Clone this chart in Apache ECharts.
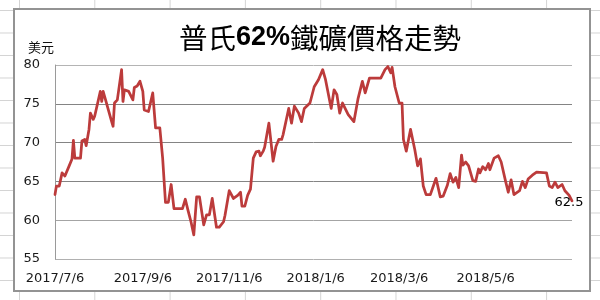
<!DOCTYPE html>
<html>
<head>
<meta charset="utf-8">
<script src="https://cdn.jsdelivr.net/npm/echarts@6/dist/echarts.min.js"></script>
<style>
  html, body { margin: 0; padding: 0; }
  body {
    width: 600px; height: 300px; position: relative; overflow: hidden;
    background-color: #ffffff;
    background-image:
      linear-gradient(90deg, #d4d4d4 1px, transparent 1px),
      linear-gradient(180deg, #d4d4d4 1px, transparent 1px);
    background-size: 75.3px 100%, 100% 22.5px;
    background-position: 19px 0, 0 10px;
  }
  #frame {
    position: absolute; left: 13px; top: 8px; width: 574px; height: 280px;
    border: 2px solid #939393; background: #ffffff;
  }
  #chart { position: absolute; left: 0; top: 0; width: 600px; height: 300px; }
</style>
</head>
<body>
<div id="frame"></div>
<div id="chart"></div>
<script>
// ---- data ----
const titleParts = ['普氏', '62%', '鐵礦價格走勢'];
const unitLabel = '美元';
const xTickDates = ['2017-07-06', '2017-09-06', '2017-11-06', '2018-01-06', '2018-03-06', '2018-05-06'];
const xRange = ['2017-07-06', '2018-07-06'];
const yTicks = [55, 60, 65, 70, 75, 80];

const dates = [
  '2017-07-06','2017-07-07','2017-07-09','2017-07-11','2017-07-13','2017-07-14','2017-07-16','2017-07-18','2017-07-19','2017-07-20',
  '2017-07-24','2017-07-25','2017-07-27','2017-07-28','2017-07-30','2017-07-31','2017-08-02','2017-08-03','2017-08-07','2017-08-08',
  '2017-08-09','2017-08-11','2017-08-15','2017-08-16','2017-08-17','2017-08-19','2017-08-22','2017-08-23','2017-08-24','2017-08-27',
  '2017-08-30','2017-08-31','2017-09-02','2017-09-04','2017-09-06','2017-09-07','2017-09-10','2017-09-13','2017-09-15','2017-09-18',
  '2017-09-20','2017-09-22','2017-09-24','2017-09-26','2017-09-28','2017-10-04','2017-10-06','2017-10-08','2017-10-10','2017-10-12',
  '2017-10-14','2017-10-16','2017-10-19','2017-10-21','2017-10-23','2017-10-25','2017-10-26','2017-10-28','2017-10-30','2017-11-02',
  '2017-11-03','2017-11-06','2017-11-09','2017-11-12','2017-11-14','2017-11-15','2017-11-17','2017-11-19','2017-11-21','2017-11-23',
  '2017-11-25','2017-11-27','2017-11-28','2017-11-30','2017-12-01','2017-12-04','2017-12-07','2017-12-09','2017-12-11','2017-12-13',
  '2017-12-14','2017-12-18','2017-12-20','2017-12-22','2017-12-25','2017-12-27','2017-12-29','2018-01-02','2018-01-05','2018-01-08',
  '2018-01-11','2018-01-13','2018-01-17','2018-01-19','2018-01-21','2018-01-23','2018-01-25','2018-01-29','2018-02-02','2018-02-05',
  '2018-02-08','2018-02-10','2018-02-11','2018-02-13','2018-02-21','2018-02-24','2018-02-26','2018-02-28','2018-03-01','2018-03-03',
  '2018-03-06','2018-03-08','2018-03-09','2018-03-11','2018-03-14','2018-03-17','2018-03-19','2018-03-21','2018-03-23','2018-03-25',
  '2018-03-28','2018-04-01','2018-04-04','2018-04-06','2018-04-09','2018-04-11','2018-04-13','2018-04-15','2018-04-17','2018-04-19',
  '2018-04-20','2018-04-22','2018-04-24','2018-04-25','2018-04-27','2018-04-29','2018-05-01','2018-05-02','2018-05-04','2018-05-06',
  '2018-05-08','2018-05-09','2018-05-12','2018-05-15','2018-05-17','2018-05-20','2018-05-22','2018-05-24','2018-05-26','2018-05-30',
  '2018-06-01','2018-06-03','2018-06-05','2018-06-08','2018-06-11','2018-06-18','2018-06-20','2018-06-22','2018-06-24','2018-06-26',
  '2018-06-29','2018-07-01','2018-07-04','2018-07-06'
];
const prices = [
  63.3,64.4,64.4,66.1,65.7,65.5,67.0,67.9,70.3,68.0,
  68.0,70.2,70.4,69.6,71.7,73.8,73.0,73.4,76.6,75.3,
  76.6,75.3,72.7,72.1,75.1,75.5,79.4,75.3,76.8,76.6,
  75.5,77.1,77.3,77.9,76.6,74.2,74.0,76.4,71.9,71.9,
  68.0,62.3,62.3,64.6,61.5,61.5,62.7,61.2,59.8,58.1,
  63.0,63.0,59.4,60.7,60.7,62.8,62.6,59.1,59.1,59.8,
  60.6,63.8,62.8,63.2,63.6,61.8,61.8,63.2,64.0,68.0,
  68.8,68.9,68.3,68.9,69.4,72.5,67.6,69.5,70.4,70.4,
  71.0,74.4,72.5,74.7,73.8,72.7,74.4,75.1,77.2,78.1,
  79.4,78.1,74.4,76.8,76.2,73.8,75.1,73.6,72.7,75.7,
  77.9,76.4,76.5,78.3,78.3,79.4,79.8,79.0,79.7,77.2,
  75.1,75.1,70.4,68.9,71.7,69.1,67.0,67.9,64.4,63.3,
  63.3,65.4,63.0,63.1,64.5,66.0,64.9,65.5,64.2,68.4,
  67.1,67.5,67.0,67.1,65.1,65.0,66.6,66.1,66.9,66.5,
  67.3,66.5,68.0,68.3,67.5,65.1,63.6,65.2,63.3,63.8,
  65.0,64.2,65.3,65.8,66.2,66.1,64.4,64.2,64.9,64.2,
  64.6,63.8,63.2,62.5
];

// ---- helpers ----
function ts(s) { const p = s.split('-').map(Number); return new Date(p[0], p[1] - 1, p[2]).getTime(); }
function fmt(v) { const d = new Date(v); return d.getFullYear() + '/' + (d.getMonth() + 1) + '/' + d.getDate(); }

const seriesData = dates.map((d, i) => [ts(d), prices[i]]);
const last = seriesData[seriesData.length - 1];

const chart = echarts.init(document.getElementById('chart'), null, { renderer: 'canvas' });
const labelFont = 'DejaVu Sans';
chart.setOption({
  animation: false,
  backgroundColor: 'transparent',
  title: [
    {
      text: '{a|' + titleParts[0] + '}{b|' + titleParts[1] + '}{a|' + titleParts[2] + '}',
      left: 179, top: 21, padding: 0,
      textStyle: {
        rich: {
          a: { fontFamily: 'Noto Sans CJK TC', fontSize: 28.5, fontWeight: 'normal', color: '#000', lineHeight: 34 },
          b: { fontFamily: 'Liberation Sans', fontWeight: 'bold', fontSize: 27, color: '#000', lineHeight: 34 }
        }
      }
    },
    {
      text: unitLabel, left: 28, top: 40, padding: 0,
      textStyle: { fontFamily: 'Noto Sans CJK TC', fontSize: 13, fontWeight: 'normal', color: '#111', lineHeight: 15 }
    }
  ],
  grid: { left: 55, right: 28, top: 65, bottom: 41, containLabel: false },
  xAxis: {
    type: 'value',
    min: ts(xRange[0]), max: ts(xRange[1]),
    axisLine: { show: false },
    axisTick: { show: false },
    splitLine: { show: false },
    axisLabel: {
      customValues: xTickDates.map(ts),
      formatter: fmt,
      fontFamily: labelFont, fontSize: 13, color: '#1a1a1a', margin: 13,
      showMinLabel: true, showMaxLabel: true, hideOverlap: false
    }
  },
  yAxis: {
    type: 'value',
    min: yTicks[0], max: yTicks[yTicks.length - 1], interval: 5,
    axisLine: { show: true, lineStyle: { color: '#9a9a9a', width: 1 } },
    axisTick: { show: false },
    splitLine: { show: true, lineStyle: { color: ['#b0b0b0', '#a4a4a4', '#848484', '#848484', '#848484', '#b4b4b4'], width: 1 } },
    axisLabel: { fontFamily: labelFont, fontSize: 13, color: '#1a1a1a', margin: 15, padding: [3, 0, 0, 0] }
  },
  series: [{
    type: 'line',
    data: seriesData,
    showSymbol: false,
    symbol: 'none',
    smooth: false,
    lineStyle: { color: '#bc3b3b', width: 2.75, join: 'round', cap: 'round' },
    markPoint: {
      symbol: 'circle', symbolSize: 0,
      data: [{ coord: last, value: last[1] }],
      label: { show: true, position: 'inside', offset: [-3, 2], formatter: '{c}', fontFamily: labelFont, fontSize: 13, color: '#000' }
    }
  }]
});
</script>
</body>
</html>
